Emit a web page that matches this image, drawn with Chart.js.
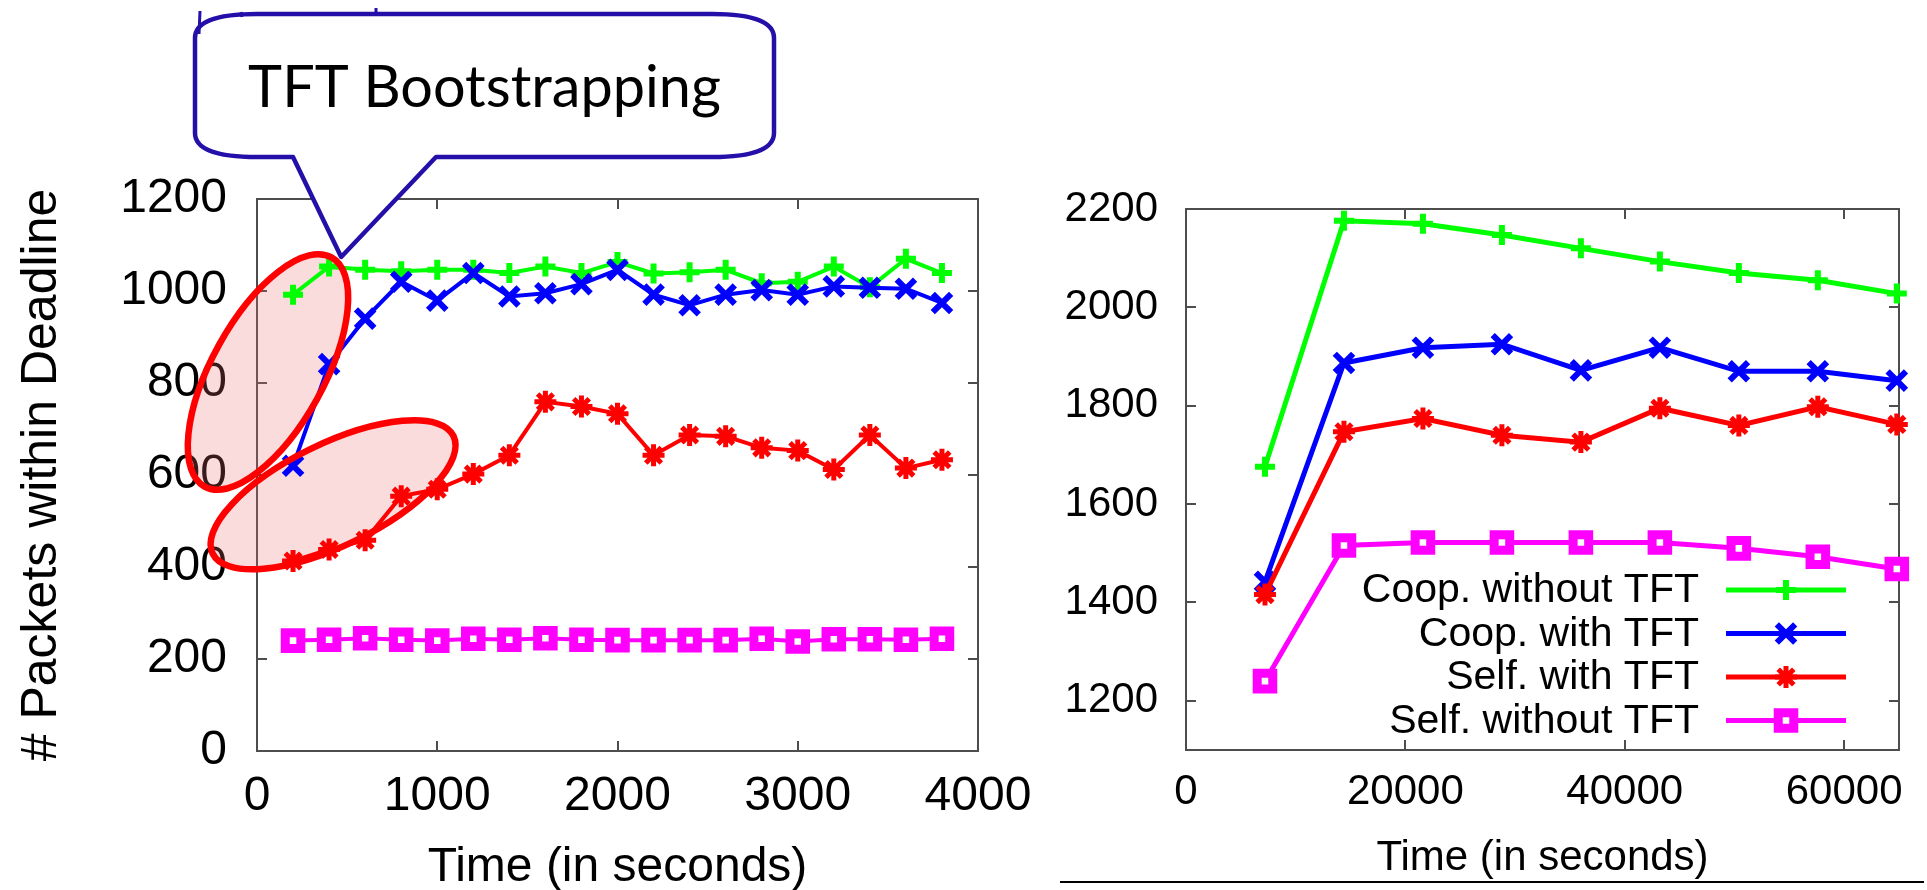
<!DOCTYPE html>
<html><head><meta charset="utf-8">
<script src="https://cdn.jsdelivr.net/npm/chart.js@4.4.1/dist/chart.umd.min.js"></script>
<style>
html,body{margin:0;padding:0;background:#fff;overflow:hidden;width:1927px;height:890px;}
#c1{position:absolute;left:0;top:0;}
#c2{position:absolute;left:1050px;top:0;}
</style></head><body>
<canvas id="c1" width="1050" height="920" style="width:1050px;height:920px"></canvas>
<canvas id="c2" width="877" height="920" style="width:877px;height:920px"></canvas>
<script>
// ---------- data ----------
const seriesNames = ['Coop. without TFT', 'Coop. with TFT', 'Self. with TFT', 'Self. without TFT'];

const leftTime    = [200, 400, 600, 800, 1000, 1200, 1400, 1600, 1800, 2000, 2200, 2400, 2600, 2800, 3000, 3200, 3400, 3600, 3800];
const leftCoopNo  = [992, 1053, 1046, 1043, 1046, 1046, 1039, 1053, 1039, 1063, 1038, 1041, 1046, 1017, 1020, 1053, 1008, 1070, 1039];
const leftCoopTFT = [620, 841, 940, 1020, 979, 1039, 988, 995, 1015, 1046, 992, 969, 992, 1002, 992, 1010, 1007, 1005, 974];
const leftSelfTFT = [413, 438, 458, 554, 569, 602, 643, 759, 749, 733, 643, 687, 684, 659, 653, 612, 687, 615, 633];
const leftSelfNo  = [240, 242, 245, 242, 240, 244, 242, 245, 242, 241, 241, 241, 241, 244, 238, 243, 243, 242, 244];

const rightTime    = [7200, 14400, 21600, 28800, 36000, 43200, 50400, 57600, 64800];
const rightCoopNo  = [1676, 2176, 2170, 2147, 2120, 2093, 2070, 2055, 2028];
const rightCoopTFT = [1442, 1887, 1918, 1925, 1872, 1918, 1870, 1870, 1851];
const rightSelfTFT = [1416, 1747, 1774, 1740, 1726, 1795, 1760, 1798, 1762];
const rightSelfNo  = [1240, 1516, 1522, 1522, 1522, 1522, 1510, 1493, 1468];

const leftXTicks  = [0, 1000, 2000, 3000, 4000];
const leftYTicks  = [0, 200, 400, 600, 800, 1000, 1200];
const rightXTicks = [0, 20000, 40000, 60000];
const rightYTicks = [1200, 1400, 1600, 1800, 2000, 2200];

// ---------- styles ----------
const FONT = "'Liberation Sans', Arial, sans-serif";
const styles = [
  {color: '#00ff00', pointStyle: 'cross',    r: 10,   pw: 6, order: 4},
  {color: '#0000ff', pointStyle: 'crossRot', r: 13,   pw: 6, order: 3},
  {color: '#ff0000', pointStyle: 'star',     r: 11,   pw: 5, order: 2},
  {color: '#ff00ff', pointStyle: 'rect',     r: 11,   pw: 9, order: 1}
];

function makeDatasets(xs, ys, lw) {
  return ys.map((arr, i) => ({
    label: seriesNames[i],
    data: arr.map((v, k) => ({x: xs[k], y: v})),
    borderColor: styles[i].color,
    backgroundColor: '#ffffff',
    pointBackgroundColor: '#ffffff',
    pointBorderColor: styles[i].color,
    pointStyle: styles[i].pointStyle,
    pointRadius: styles[i].r,
    pointBorderWidth: styles[i].pw,
    borderWidth: lw,
    order: styles[i].order,
    clip: false,
    tension: 0
  }));
}

function frameTicks(chart) {
  const {ctx, chartArea: a, scales: {x, y}} = chart;
  const tl = 10;
  ctx.save();
  ctx.strokeStyle = '#4d4d4d';
  ctx.lineWidth = 2;
  ctx.strokeRect(a.left, a.top, a.right - a.left, a.bottom - a.top);
  ctx.beginPath();
  x.ticks.forEach(t => {
    const px = Math.round(x.getPixelForValue(t.value));
    ctx.moveTo(px, a.bottom); ctx.lineTo(px, a.bottom - tl);
    ctx.moveTo(px, a.top); ctx.lineTo(px, a.top + tl);
  });
  y.ticks.forEach(t => {
    const py = Math.round(y.getPixelForValue(t.value));
    ctx.moveTo(a.left, py); ctx.lineTo(a.left + tl, py);
    ctx.moveTo(a.right, py); ctx.lineTo(a.right - tl, py);
  });
  ctx.stroke();
  ctx.restore();
}

function xScale(min, max, ticksArr, size, pad, h, titlePad) {
  return {
    type: 'linear', min: min, max: max,
    afterBuildTicks: s => { s.ticks = ticksArr.map(v => ({value: v})); },
    afterFit: s => { s.height = h; s.paddingLeft = 0; s.paddingRight = 0; },
    grid: {display: false, drawTicks: false}, border: {display: false},
    ticks: {autoSkip: false, maxRotation: 0, minRotation: 0, padding: pad, color: '#000',
            font: {family: FONT, size: size, lineHeight: 1}, callback: v => String(v)},
    title: {display: true, text: 'Time (in seconds)', color: '#000',
            font: {family: FONT, size: size, lineHeight: 1}, padding: {top: 0, bottom: titlePad}}
  };
}
function yScale(min, max, ticksArr, size, pad, w, title) {
  const sc = {
    type: 'linear', min: min, max: max,
    afterBuildTicks: s => { s.ticks = ticksArr.map(v => ({value: v})); },
    afterFit: s => { s.width = w; s.paddingTop = 0; s.paddingBottom = 0; },
    grid: {display: false, drawTicks: false}, border: {display: false},
    ticks: {autoSkip: false, padding: pad, color: '#000',
            font: {family: FONT, size: size, lineHeight: 1}, callback: v => String(v)},
    title: {display: false}
  };
  if (title) sc.title = title;
  return sc;
}

// ---------- left chart annotations ----------
const leftAnnot = {
  id: 'leftAnnot',
  ellipses: [
    {cx: 61, cy: 824, a: 131, b: 56, ang: -61},
    {cx: 422, cy: 557, a: 134, b: 51, ang: -26}
  ],
  path(ctx, chart, e) {
    const px = chart.scales.x.getPixelForValue(e.cx), py = chart.scales.y.getPixelForValue(e.cy);
    ctx.beginPath();
    ctx.ellipse(px, py, e.a, e.b, e.ang * Math.PI / 180, 0, Math.PI * 2);
  },
  beforeDatasetsDraw(chart) {
    frameTicks(chart);
    const ctx = chart.ctx;
    ctx.save();
    ctx.fillStyle = 'rgba(240,110,110,0.24)';
    this.ellipses.forEach(e => { this.path(ctx, chart, e); ctx.fill(); });
    ctx.restore();
  },
  afterDraw(chart) {
    const ctx = chart.ctx;
    ctx.save();
    ctx.strokeStyle = '#ff0000';
    ctx.lineWidth = 6.5;
    this.ellipses.forEach(e => { this.path(ctx, chart, e); ctx.stroke(); });
    // callout bubble
    const L = 195, R = 774, T = 14, B = 157, rx = 62, ry = 24;
    const tipX = chart.scales.x.getPixelForValue(467), tipY = chart.scales.y.getPixelForValue(1074);
    const bl = 293, br = 436;
    ctx.beginPath();
    ctx.moveTo(L + rx, T);
    ctx.lineTo(R - rx, T);
    ctx.quadraticCurveTo(R, T, R, T + ry);
    ctx.lineTo(R, B - ry);
    ctx.quadraticCurveTo(R, B, R - rx, B);
    ctx.lineTo(br, B);
    ctx.lineTo(tipX, tipY);
    ctx.lineTo(bl, B);
    ctx.lineTo(L + rx, B);
    ctx.quadraticCurveTo(L, B, L, B - ry);
    ctx.lineTo(L, T + ry);
    ctx.quadraticCurveTo(L, T, L + rx, T);
    ctx.closePath();
    ctx.fillStyle = '#ffffff';
    ctx.fill();
    ctx.strokeStyle = '#2410a8';
    ctx.lineWidth = 4.5;
    ctx.lineJoin = 'round';
    ctx.stroke();
    // stray pen marks
    ctx.lineWidth = 3;
    ctx.beginPath();
    ctx.moveTo(200, 11); ctx.lineTo(199, 34);
    ctx.moveTo(241, 12); ctx.lineTo(242, 17);
    ctx.moveTo(376, 8); ctx.lineTo(376, 15);
    ctx.stroke();
    // text
    const txt = 'TFT Bootstrapping';
    let fs = 58;
    ctx.font = fs + "px Lato, 'Open Sans', sans-serif";
    const w = ctx.measureText(txt).width;
    fs = fs * 473 / w;
    ctx.font = fs.toFixed(1) + "px Lato, 'Open Sans', sans-serif";
    ctx.fillStyle = '#000';
    ctx.textAlign = 'center';
    ctx.textBaseline = 'alphabetic';
    ctx.fillText(txt, (L + R) / 2, 107);
    ctx.restore();
  }
};

// ---------- right chart legend ----------
function drawMarker(ctx, style, x, y, r) {
  ctx.beginPath();
  const d = Math.SQRT1_2 * r;
  if (style === 'cross' || style === 'star') {
    ctx.moveTo(x, y - r); ctx.lineTo(x, y + r);
    ctx.moveTo(x - r, y); ctx.lineTo(x + r, y);
  }
  if (style === 'crossRot' || style === 'star') {
    ctx.moveTo(x - d, y - d); ctx.lineTo(x + d, y + d);
    ctx.moveTo(x - d, y + d); ctx.lineTo(x + d, y - d);
  }
  if (style === 'rect') {
    ctx.rect(x - d, y - d, 2 * d, 2 * d);
    ctx.fillStyle = '#fff';
    ctx.fill();
  }
  ctx.stroke();
}
const rightAnnot = {
  id: 'rightAnnot',
  beforeDatasetsDraw(chart) { frameTicks(chart); },
  afterDraw(chart) {
    const ctx = chart.ctx;
    ctx.save();
    const textRight = 649, l0 = 676, l1 = 796, mx = 736, y0 = 590, dy = 43.5;
    ctx.font = '41px ' + FONT;
    ctx.textAlign = 'right';
    ctx.textBaseline = 'middle';
    chart.data.datasets.forEach((ds, i) => {
      const y = y0 + i * dy;
      ctx.fillStyle = '#000';
      ctx.fillText(ds.label, textRight, y + 1);
      ctx.strokeStyle = ds.borderColor;
      ctx.lineWidth = 5;
      ctx.beginPath(); ctx.moveTo(l0, y); ctx.lineTo(l1, y); ctx.stroke();
      ctx.lineWidth = ds.pointBorderWidth;
      drawMarker(ctx, ds.pointStyle, mx, y, ds.pointRadius);
    });
    // rule under the chart
    ctx.strokeStyle = '#000';
    ctx.lineWidth = 2;
    ctx.beginPath(); ctx.moveTo(10, 882); ctx.lineTo(874, 882); ctx.stroke();
    ctx.restore();
  }
};

// ---------- charts ----------
new Chart(document.getElementById('c1'), {
  type: 'line',
  data: {datasets: makeDatasets(leftTime, [leftCoopNo, leftCoopTFT, leftSelfTFT, leftSelfNo], 4)},
  options: {
    responsive: false, animation: false, events: [], devicePixelRatio: 1,
    layout: {padding: {left: 0, right: 72, top: 199, bottom: 0}},
    plugins: {legend: {display: false}, tooltip: {enabled: false}, title: {display: false}},
    scales: {
      x: xScale(0, 4000, leftXTicks, 48, 22, 169, 28),
      y: yScale(0, 1200, leftYTicks, 48, 30, 257,
        {display: true, text: '# Packets within Deadline', color: '#000',
         font: {family: FONT, size: 50, lineHeight: 1}, padding: {top: 17, bottom: 0}})
    }
  },
  plugins: [leftAnnot]
});

new Chart(document.getElementById('c2'), {
  type: 'line',
  data: {datasets: makeDatasets(rightTime, [rightCoopNo, rightCoopTFT, rightSelfTFT, rightSelfNo], 5)},
  options: {
    responsive: false, animation: false, events: [], devicePixelRatio: 1,
    layout: {padding: {left: 0, right: 28, top: 209, bottom: 0}},
    plugins: {legend: {display: false}, tooltip: {enabled: false}, title: {display: false}},
    scales: {
      x: xScale(0, 65000, rightXTicks, 42, 21, 170, 41),
      y: yScale(1100, 2200, rightYTicks, 42, 28, 136, null)
    }
  },
  plugins: [rightAnnot]
});
</script>
</body></html>
